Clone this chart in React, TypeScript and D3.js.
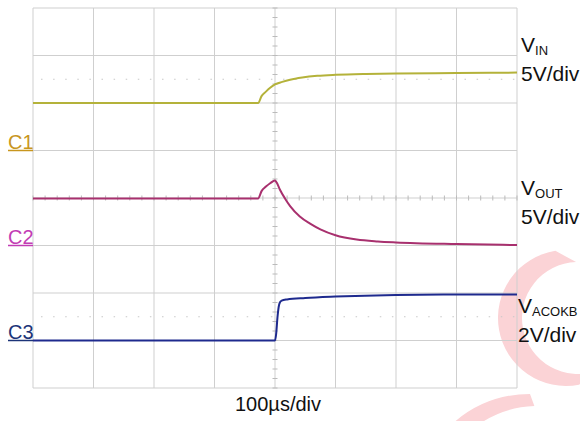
import React from "react";
import * as d3 from "d3";

// time in µs relative to trigger (center), values in volts
const c1Time = [-400, -200, -28, -22, -15, -8, 0, 12, 25, 45, 70, 100, 150, 200, 300, 400];
const c1Volt = [5.0, 5.0, 5.0, 5.75, 6.2, 6.6, 6.95, 7.22, 7.45, 7.68, 7.86, 7.97, 8.06, 8.1, 8.16, 8.2];

const c2Time = [-400, -28, -22, -15, -8, 0, 3, 8, 17, 25, 41, 58, 75, 100, 135, 170, 200, 300, 400];
const c2Volt = [4.95, 4.95, 5.75, 6.2, 6.55, 6.84, 6.6, 5.9, 4.9, 4.15, 3.05, 2.3, 1.7, 1.08, 0.62, 0.42, 0.32, 0.15, 0.05];

const c3Time = [-400, 0, 2, 4, 6, 8, 11, 20, 50, 100, 200, 300, 400];
const c3Volt = [0, 0, 0.3, 0.95, 1.4, 1.6, 1.68, 1.73, 1.79, 1.85, 1.92, 1.94, 1.94];

const channelNames = ["C1", "C2", "C3"];
const channelScales = [5, 5, 2]; // V/div
const channelOffsets = [1, -1, -3]; // ground position in divisions from center
const traceColors = ["#b4b23a", "#a8306e", "#1e2a8e"];
const labelColors = ["#c8961e", "#c23cb4", "#1c3478"];

const xDivs = [0, 1, 2, 3, 4, 5, 6, 7, 8];
const yDivs = [-4, -3, -2, -1, 0, 1, 2, 3, 4];

export default function App() {
  const W = 580, H = 421;
  const L = 33, R = 517, T = 8, B = 388;
  const x = d3.scaleLinear().domain([-400, 400]).range([L, R]);
  const y = d3.scaleLinear().domain([-4, 4]).range([B, T]);
  const xd = d3.scaleLinear().domain([0, 8]).range([L, R]);

  const series = [
    { t: c1Time, v: c1Volt },
    { t: c2Time, v: c2Volt },
    { t: c3Time, v: c3Volt },
  ];

  const lineGen = (ci: number) =>
    d3
      .line<number>()
      .x((_, i) => x(series[ci].t[i]))
      .y((_, i) => y(series[ci].v[i] / channelScales[ci] + channelOffsets[ci]))
      .curve(d3.curveMonotoneX);

  const gridColor = "#cfcfcf";
  const minorX = d3.range(-20, 21).map((k) => k * 20); // µs
  const minorY = d3.range(-20, 21).map((k) => k * 0.2); // div

  const rad = (a: number) => (a * Math.PI) / 180;
  // crescent watermark
  const p1 = d3.path();
  p1.arc(566, 318, 68, rad(-99), rad(79), true);
  p1.arc(578, 318, 56, rad(70), rad(-92), false);
  p1.closePath();
  const p2 = d3.path();
  p2.arc(530, 510, 116, rad(-90), rad(-130), true);
  p2.arc(538, 510, 104, rad(-128), rad(-92), false);
  p2.closePath();

  const font = "'Liberation Sans', Arial, sans-serif";

  return (
    <svg
      width={W}
      height={H}
      style={{ position: "fixed", left: 0, top: 0, background: "#fff" }}
      fontFamily={font}
    >
      <rect width={W} height={H} fill="#fff" />
      {/* watermark */}
      <path d={p1.toString()} fill="#fbd3d6" />
      <path d={p2.toString()} fill="#fbd3d6" />

      {/* grid */}
      {xDivs.map((d) => (
        <line key={"gx" + d} x1={xd(d)} x2={xd(d)} y1={T} y2={B} stroke={gridColor} strokeWidth={1} />
      ))}
      {yDivs.map((d) => (
        <line key={"gy" + d} x1={L} x2={R} y1={y(d)} y2={y(d)} stroke={gridColor} strokeWidth={1} />
      ))}
      {/* minor ticks on center axes */}
      {minorY.map((d, i) => (
        <line key={"my" + i} x1={x(0) - 2.5} x2={x(0) + 2.5} y1={y(d)} y2={y(d)} stroke="#bbb" strokeWidth={1} />
      ))}
      {minorX.map((d, i) => (
        <line key={"mx" + i} x1={x(d)} x2={x(d)} y1={y(0) - 2.5} y2={y(0) + 2.5} stroke="#bbb" strokeWidth={1} />
      ))}
      {/* dotted level lines */}
      <line x1={L + 8} x2={R} y1={y(2.5)} y2={y(2.5)} stroke="#c8c8c8" strokeWidth={1.2} strokeDasharray="1.5,10.6" />
      <line x1={L + 8} x2={R} y1={y(-2.5)} y2={y(-2.5)} stroke="#c8c8c8" strokeWidth={1.2} strokeDasharray="1.5,10.6" />

      {/* traces */}
      {series.map((s, ci) => (
        <path
          key={"tr" + ci}
          d={lineGen(ci)(s.v) as string}
          fill="none"
          stroke={traceColors[ci]}
          strokeWidth={2}
          strokeLinejoin="round"
        />
      ))}

      {/* channel markers */}
      {channelNames.map((n, ci) => {
        const gy = y(channelOffsets[ci]);
        return (
          <g key={"cl" + ci}>
            <text x={8} y={gy - 2} fontSize={20} fill={labelColors[ci]}>
              {n}
            </text>
            <line x1={8} x2={33} y1={gy} y2={gy} stroke={labelColors[ci]} strokeWidth={1.5} />
          </g>
        );
      })}

      {/* right labels */}
      <g fontSize={21} fill="#111">
        <text x={521} y={52}>
          V<tspan fontSize={13} dy={3}>IN</tspan>
        </text>
        <text x={521} y={81}>5V/div</text>
        <text x={521} y={195}>
          V<tspan fontSize={13} dy={3}>OUT</tspan>
        </text>
        <text x={521} y={224}>5V/div</text>
        <text x={518} y={313}>
          V<tspan fontSize={13} dy={3}>ACOKB</tspan>
        </text>
        <text x={518} y={342}>2V/div</text>
      </g>
      <text x={278} y={411} fontSize={20} textAnchor="middle" fill="#111">
        100µs/div
      </text>
    </svg>
  );
}
